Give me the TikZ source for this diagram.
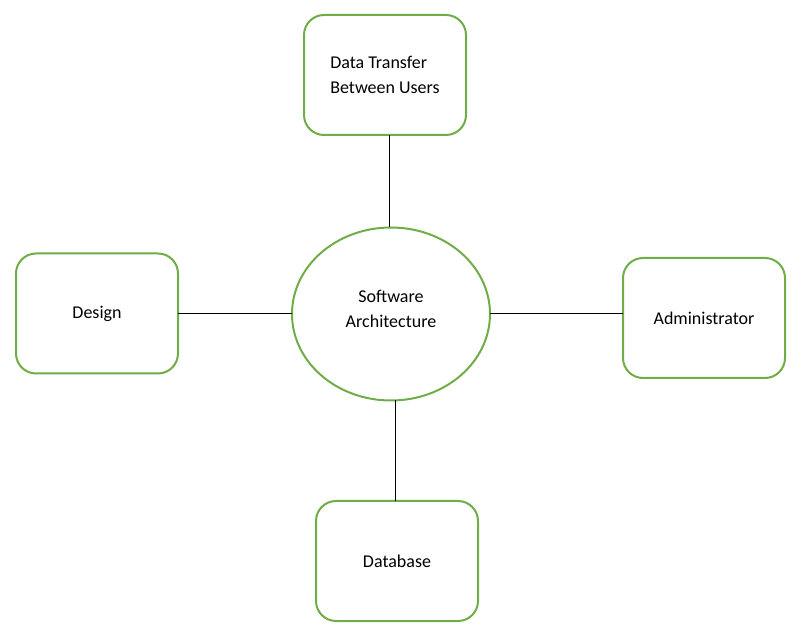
\documentclass[tikz,border=0pt]{standalone}
\usepackage{fontspec}
\setmainfont{Carlito}
\usetikzlibrary{shapes.geometric}
\definecolor{officegreen}{HTML}{70AD47}
\begin{document}
\begin{tikzpicture}[x=0.75pt, y=-0.75pt, font=\fontsize{13.5}{18.75}\selectfont,
  part/.style={rectangle, rounded corners=15pt, draw=officegreen, line width=1.5pt, minimum width=121.5pt, minimum height=90pt, outer sep=0pt},
  core/.style={ellipse, draw=officegreen, line width=1.5pt, minimum width=148.5pt, minimum height=129.75pt, outer sep=0pt, inner sep=0pt},
  link/.style={line width=0.75pt}]
\useasboundingbox (0,0) rectangle (796,630);
\node[core, align=center] (arch) at (391,314){Software\\Architecture\\[-11.5pt]~};
\node[part, align=left] (transfer) at (385,75){Data Transfer\\Between Users};
\node[part] (design) at (97,313.5){Design};
\node[part] (admin) at (704,318){Administrator};
\node[part] (db) at (397,561){Database};
\draw[link]([xshift=3pt]transfer.south) -- ([xshift=3pt]transfer.south |- arch.north);
\draw[link](design.east |- arch.west) -- (arch.west);
\draw[link](arch.east) -- (arch.east -| admin.west);
\draw[link]([xshift=-1.5pt]db.north) -- ([xshift=-1.5pt]db.north |- arch.south);
\end{tikzpicture}
\end{document}
